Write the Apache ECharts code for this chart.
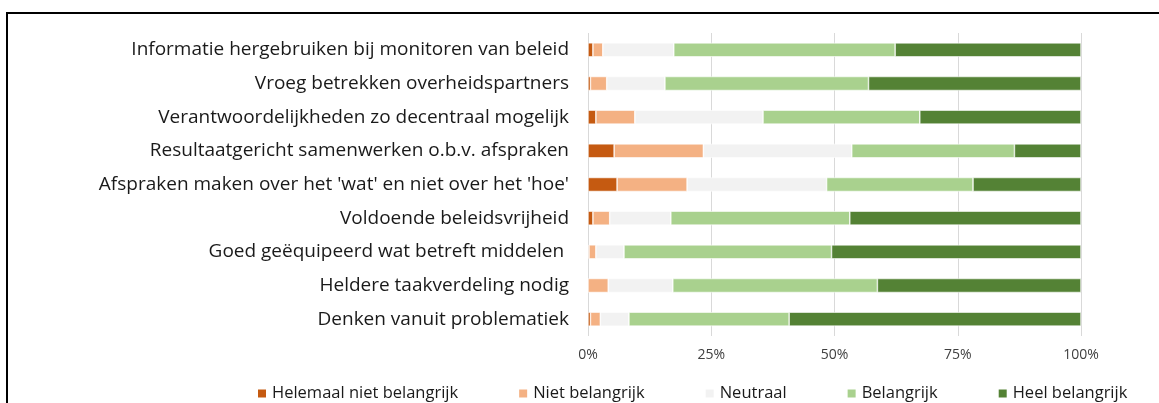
<!DOCTYPE html>
<html>
<head>
    <meta charset="utf-8">
    <title>Belangrijkheid</title>
    <script src="https://cdn.jsdelivr.net/npm/echarts@6/dist/echarts.min.js"></script>
    <style>
        html, body { margin: 0; padding: 0; background: #fff; }
        #chartmain { width: 1159px; height: 403px; }
    </style>
</head>
<body>
<div id="chartmain"></div>
<script>
    // categorieen, van boven naar onder
    var categories = [
        'Informatie hergebruiken bij monitoren van beleid',
        'Vroeg betrekken overheidspartners',
        'Verantwoordelijkheden zo decentraal mogelijk',
        'Resultaatgericht samenwerken o.b.v. afspraken',
        "Afspraken maken over het 'wat' en niet over het 'hoe'",
        'Voldoende beleidsvrijheid',
        'Goed geëquipeerd wat betreft middelen ',
        'Heldere taakverdeling nodig',
        'Denken vanuit problematiek'
    ];
    var seriesNames = ['Helemaal niet belangrijk', 'Niet belangrijk', 'Neutraal', 'Belangrijk', 'Heel belangrijk'];
    var helemaalNiet = [1.0, 0.5, 1.6, 5.3, 5.9, 1.0, 0.2, 0.0, 0.5];
    var nietBelangrijk = [2.0, 3.3, 7.9, 18.1, 14.2, 3.4, 1.4, 4.1, 2.0];
    var neutraal = [14.4, 11.8, 26.0, 30.1, 28.3, 12.4, 5.7, 13.1, 5.8];
    var belangrijk = [44.9, 41.3, 31.8, 33.0, 29.7, 36.3, 42.1, 41.5, 32.5];
    var heelBelangrijk = [37.7, 43.1, 32.7, 13.5, 21.9, 46.9, 50.6, 41.3, 59.2];
    var xTicks = [0, 25, 50, 75, 100];
    var colors = ['#C55A11', '#F4B183', '#F2F2F2', '#A9D18E', '#548235'];

    var values = [helemaalNiet, nietBelangrijk, neutraal, belangrijk, heelBelangrijk];
    var fontFam = 'Open Sans';

    var myChart = echarts.init(document.getElementById('chartmain'));
    var series = [];
    for (var i = 0; i < seriesNames.length; i++) {
        series.push({
            name: seriesNames[i],
            type: 'bar',
            stack: 'totaal',
            barWidth: 14,
            itemStyle: {color: colors[i], borderColor: '#fff', borderWidth: 0.6},
            data: values[i]
        });
    }
    option = {
        animation: false,
        color: colors,
        textStyle: {fontFamily: fontFam},
        // kader rond de figuur
        graphic: [{
            type: 'rect',
            shape: {x: 7, y: 13, width: 1200, height: 500},
            style: {fill: 'none', stroke: '#000', lineWidth: 2}
        }],
        grid: {left: 588, right: 78, top: 33, bottom: 67},
        legend: {
            left: 251,
            top: 380,
            icon: 'rect',
            itemWidth: 10,
            itemHeight: 10,
            itemGap: 59,
            textStyle: {fontSize: 16.5, color: '#1a1a1a', fontFamily: fontFam},
            data: seriesNames
        },
        xAxis: {
            type: 'value',
            min: xTicks[0],
            max: xTicks[xTicks.length - 1],
            interval: 25,
            axisLine: {show: false},
            axisTick: {show: false},
            splitLine: {lineStyle: {color: '#d9d9d9', width: 1}},
            axisLabel: {formatter: '{value}%', fontSize: 14, color: '#404040', margin: 12}
        },
        yAxis: {
            type: 'category',
            inverse: true,
            data: categories,
            axisLine: {show: false},
            axisTick: {show: false},
            axisLabel: {fontSize: 19, color: '#1a1a1a', margin: 19}
        },
        series: series
    };
    myChart.setOption(option);
</script>
</body>
</html>
